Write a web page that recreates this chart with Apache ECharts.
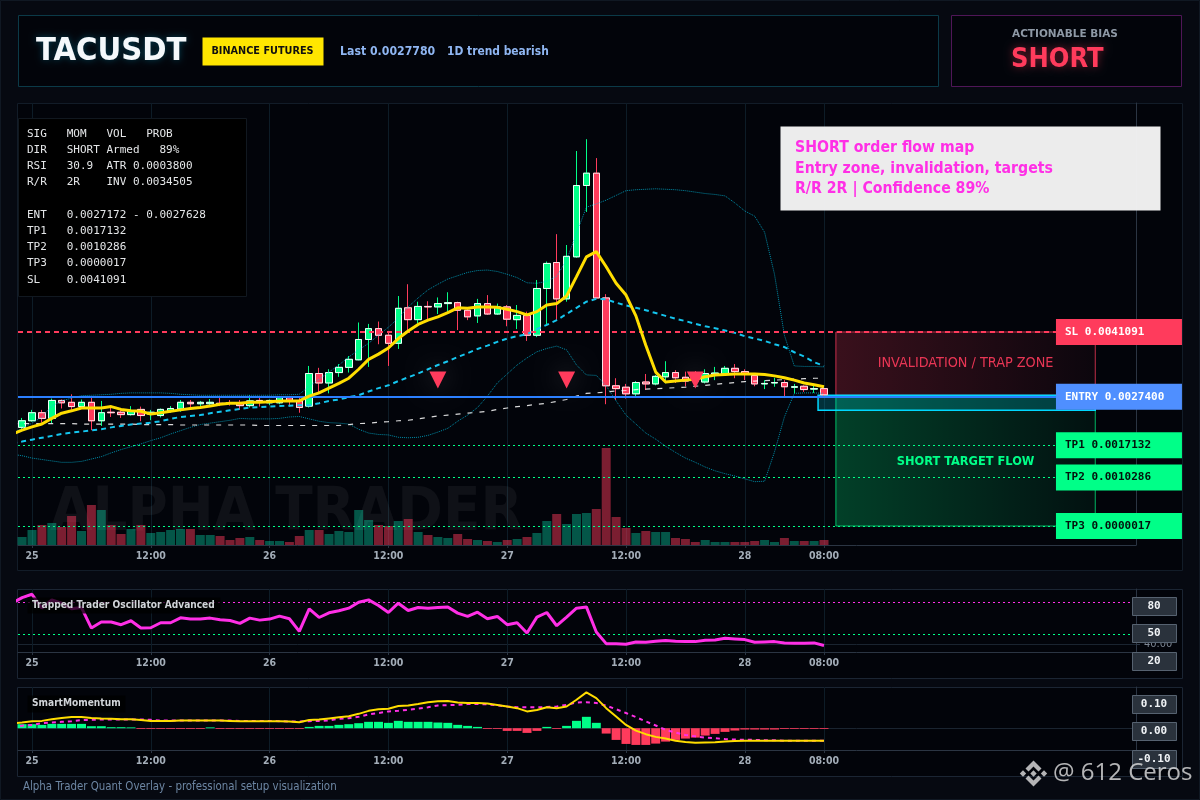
<!DOCTYPE html>
<html><head><meta charset="utf-8">
<style>html,body{margin:0;padding:0;background:#060911}#c{width:1200px;height:800px}</style>
<script src="https://cdn.jsdelivr.net/npm/echarts@6/dist/echarts.min.js"></script>
</head><body><div id="c"></div>
<script>
// ---------- data (one candle per hour; hour 0 = day 25 00:00) ----------
const tickHours = [0,12,24,36,48,60,72,80];
const tickLabels = ['25','12:00','26','12:00','27','12:00','28','08:00'];
const firstCandleHour = -1, firstLineHour = -2;
const open = [0.00209,0.00223,0.00240,0.00228,0.00266,0.00262,0.00253,0.00262,0.00223,0.00241,0.00241,0.00236,0.00247,0.00237,0.00234,0.00244,0.00248,0.00262,0.00259,0.00259,0.00260,0.00261,0.00260,0.00255,0.00266,0.00261,0.00261,0.00272,0.00265,0.00254,0.00323,0.00303,0.00325,0.00336,0.00352,0.00395,0.00418,0.00404,0.00387,0.00462,0.00437,0.00465,0.00464,0.00471,0.00473,0.00457,0.00445,0.00471,0.00449,0.00464,0.00437,0.00446,0.00404,0.00503,0.00558,0.00481,0.00570,0.00721,0.00747,0.00483,0.00297,0.00294,0.00280,0.00305,0.00301,0.00316,0.00325,0.00315,0.00318,0.00305,0.00322,0.00322,0.00334,0.00327,0.00319,0.00301,0.00303,0.00304,0.00294,0.00296,0.00290,0.00291];
const close = [0.00223,0.00240,0.00228,0.00266,0.00261,0.00253,0.00262,0.00223,0.00240,0.00240,0.00236,0.00243,0.00234,0.00241,0.00247,0.00249,0.00262,0.00259,0.00262,0.00262,0.00259,0.00260,0.00255,0.00265,0.00263,0.00266,0.00272,0.00265,0.00251,0.00323,0.00303,0.00325,0.00336,0.00353,0.00395,0.00418,0.00404,0.00387,0.00461,0.00437,0.00465,0.00464,0.00471,0.00473,0.00457,0.00443,0.00471,0.00449,0.00464,0.00438,0.00446,0.00404,0.00503,0.00556,0.00481,0.00571,0.00721,0.00747,0.00483,0.00297,0.00291,0.00280,0.00304,0.00301,0.00317,0.00325,0.00314,0.00307,0.00307,0.00323,0.00324,0.00334,0.00327,0.00321,0.00301,0.00302,0.00304,0.00295,0.00295,0.00289,0.00291,0.00278];
const low = [0.00205,0.00221,0.00219,0.00218,0.00249,0.00246,0.00249,0.00203,0.00212,0.00231,0.00229,0.00234,0.00222,0.00224,0.00230,0.00240,0.00242,0.00251,0.00254,0.00254,0.00254,0.00255,0.00246,0.00251,0.00253,0.00256,0.00258,0.00253,0.00240,0.00251,0.00281,0.00281,0.00316,0.00325,0.00351,0.00337,0.00385,0.00339,0.00375,0.00411,0.00429,0.00436,0.00449,0.00454,0.00415,0.00436,0.00430,0.00447,0.00447,0.00423,0.00417,0.00392,0.00400,0.00424,0.00436,0.00475,0.00568,0.00665,0.00483,0.00258,0.00267,0.00270,0.00274,0.00288,0.00298,0.00302,0.00303,0.00296,0.00296,0.00302,0.00309,0.00320,0.00313,0.00309,0.00296,0.00290,0.00295,0.00272,0.00281,0.00284,0.00282,0.00274];
const high = [0.00229,0.00246,0.00246,0.00270,0.00268,0.00279,0.00268,0.00272,0.00265,0.00251,0.00247,0.00254,0.00253,0.00246,0.00249,0.00254,0.00267,0.00267,0.00265,0.00269,0.00272,0.00267,0.00267,0.00277,0.00274,0.00268,0.00274,0.00274,0.00274,0.00339,0.00335,0.00332,0.00343,0.00360,0.00431,0.00428,0.00433,0.00411,0.00487,0.00512,0.00475,0.00476,0.00484,0.00495,0.00475,0.00463,0.00481,0.00489,0.00471,0.00468,0.00468,0.00454,0.00521,0.00560,0.00618,0.00595,0.00794,0.00819,0.00779,0.00491,0.00313,0.00301,0.00307,0.00322,0.00320,0.00349,0.00330,0.00327,0.00328,0.00332,0.00337,0.00339,0.00343,0.00332,0.00322,0.00309,0.00314,0.00309,0.00301,0.00298,0.00298,0.00294];
const volume = [8,15,20,22,18,29,14,40,35,20,11,16,20,12,13,15,16,16,10,10,9,5,7,8,5,4,4,3,9,15,15,11,14,13,35,25,20,19,24,26,13,10,8,7,11,6,5,4,3,5,6,8,12,24,31,21,31,32,36,97,28,17,12,14,13,13,7,6,3,5,3,3,3,3,4,5,3,7,4,4,4,5];
const emaFast = [0.00195,0.00203,0.00210,0.00216,0.00228,0.00239,0.00244,0.00250,0.00250,0.00250,0.00253,0.00247,0.00244,0.00243,0.00237,0.00240,0.00243,0.00246,0.00249,0.00251,0.00254,0.00258,0.00260,0.00260,0.00262,0.00262,0.00263,0.00265,0.00265,0.00265,0.00275,0.00282,0.00292,0.00302,0.00313,0.00332,0.00353,0.00364,0.00377,0.00397,0.00413,0.00427,0.00436,0.00443,0.00452,0.00462,0.00461,0.00464,0.00464,0.00463,0.00459,0.00454,0.00447,0.00454,0.00468,0.00471,0.00487,0.00528,0.00570,0.00581,0.00549,0.00514,0.00489,0.00445,0.00383,0.00326,0.00305,0.00307,0.00309,0.00311,0.00316,0.00320,0.00321,0.00322,0.00322,0.00322,0.00321,0.00318,0.00314,0.00309,0.00303,0.00299,0.00295];
const basis = [0.00176,0.00179,0.00183,0.00187,0.00191,0.00195,0.00198,0.00200,0.00203,0.00205,0.00209,0.00212,0.00215,0.00217,0.00219,0.00222,0.00227,0.00231,0.00233,0.00235,0.00239,0.00242,0.00245,0.00248,0.00251,0.00252,0.00253,0.00254,0.00255,0.00256,0.00256,0.00260,0.00265,0.00268,0.00273,0.00277,0.00285,0.00292,0.00298,0.00307,0.00315,0.00323,0.00332,0.00341,0.00349,0.00358,0.00366,0.00375,0.00382,0.00390,0.00397,0.00402,0.00406,0.00417,0.00426,0.00436,0.00449,0.00462,0.00475,0.00481,0.00480,0.00473,0.00467,0.00462,0.00457,0.00451,0.00445,0.00439,0.00434,0.00428,0.00423,0.00419,0.00414,0.00409,0.00402,0.00397,0.00392,0.00385,0.00379,0.00368,0.00359,0.00347,0.00339];
const upperBand = [0.00197,0.00207,0.00218,0.00231,0.00254,0.00265,0.00271,0.00276,0.00277,0.00278,0.00279,0.00281,0.00282,0.00282,0.00282,0.00282,0.00281,0.00279,0.00278,0.00277,0.00277,0.00277,0.00277,0.00277,0.00277,0.00277,0.00277,0.00278,0.00278,0.00279,0.00296,0.00311,0.00326,0.00341,0.00358,0.00373,0.00387,0.00404,0.00421,0.00440,0.00464,0.00483,0.00500,0.00512,0.00523,0.00530,0.00537,0.00541,0.00542,0.00539,0.00533,0.00526,0.00515,0.00514,0.00518,0.00529,0.00563,0.00620,0.00675,0.00682,0.00690,0.00700,0.00710,0.00712,0.00713,0.00714,0.00713,0.00712,0.00710,0.00707,0.00704,0.00702,0.00699,0.00684,0.00667,0.00656,0.00622,0.00533,0.00404,0.00339,0.00338,0.00338,0.00337];
const lowerBand = [0.00152,0.00149,0.00144,0.00141,0.00138,0.00135,0.00135,0.00137,0.00142,0.00147,0.00155,0.00162,0.00168,0.00174,0.00181,0.00187,0.00195,0.00202,0.00209,0.00215,0.00218,0.00221,0.00224,0.00228,0.00227,0.00227,0.00227,0.00228,0.00231,0.00232,0.00227,0.00222,0.00219,0.00218,0.00216,0.00205,0.00197,0.00194,0.00193,0.00188,0.00187,0.00188,0.00192,0.00199,0.00207,0.00222,0.00235,0.00251,0.00275,0.00303,0.00322,0.00341,0.00356,0.00369,0.00376,0.00381,0.00373,0.00341,0.00320,0.00319,0.00297,0.00265,0.00235,0.00216,0.00197,0.00184,0.00169,0.00156,0.00144,0.00135,0.00125,0.00117,0.00111,0.00106,0.00100,0.00094,0.00095,0.00157,0.00231,0.00281,0.00282,0.00282,0.00281];
const emaSlow = [0.00217,0.00217,0.00217,0.00217,0.00217,0.00217,0.00217,0.00216,0.00216,0.00216,0.00216,0.00216,0.00216,0.00215,0.00215,0.00215,0.00215,0.00214,0.00214,0.00214,0.00214,0.00214,0.00214,0.00214,0.00214,0.00213,0.00213,0.00213,0.00213,0.00213,0.00213,0.00213,0.00213,0.00213,0.00215,0.00217,0.00218,0.00220,0.00221,0.00223,0.00224,0.00227,0.00230,0.00233,0.00235,0.00237,0.00239,0.00241,0.00243,0.00247,0.00250,0.00253,0.00255,0.00258,0.00260,0.00264,0.00268,0.00275,0.00281,0.00282,0.00284,0.00286,0.00287,0.00289,0.00290,0.00291,0.00292,0.00293,0.00294,0.00296,0.00298,0.00300,0.00302,0.00304,0.00306,0.00307,0.00308,0.00309,0.00310,0.00311,0.00312,0.00313,0.00313];
const signalHours = [41,54,67];
const signalPrice = [0.00309,0.00309,0.00309];
const levelNames = ['SL','ENTRY','TP1','TP2','TP3'];
const levelValues = [0.0041091,0.00274,0.0017132,0.0010286,0.0000017];
const entryZone = [0.00277,0.00245];
const zoneHours = [81.2,107.4]; const entryZoneStart = 79.4; const levelEndHour = 103.43;
const oscLevels = [80,50];
const oscillator = [79.1,84.4,87.5,74.4,82.2,79.1,73.8,75,55.6,61.3,61.3,58.8,62.5,55.6,55.9,60.6,60.6,65.3,64.1,64.1,65,63.4,62.8,60,65,63.1,64.1,66.9,64.4,52.5,73.8,65.6,70,71.9,74.4,80,82.2,76.9,70.3,79.1,72.2,75,74.4,75,75.6,69.7,66.6,70.6,64.4,66.6,58.8,60.6,50.9,65.9,70.3,57.8,65.9,74.4,75.6,51.9,40.9,40.9,40.3,42.5,42.2,43.1,43.8,43.1,42.8,42.8,44.1,44.4,45.9,45.3,44.7,42.2,42.5,42.8,41.6,41.3,41.3,41.6,39.1];
const momentum = [0.017,0.021,0.026,0.027,0.033,0.038,0.041,0.041,0.038,0.036,0.035,0.033,0.033,0.030,0.027,0.027,0.027,0.028,0.028,0.028,0.028,0.028,0.027,0.026,0.026,0.026,0.026,0.026,0.025,0.022,0.030,0.032,0.036,0.040,0.044,0.053,0.064,0.070,0.072,0.082,0.084,0.089,0.096,0.099,0.100,0.095,0.093,0.093,0.091,0.086,0.080,0.074,0.062,0.067,0.077,0.074,0.080,0.105,0.132,0.111,0.074,0.043,0.012,-0.009,-0.022,-0.032,-0.038,-0.046,-0.051,-0.054,-0.053,-0.052,-0.049,-0.047,-0.046,-0.046,-0.046,-0.046,-0.046,-0.046,-0.046,-0.046,-0.046];
const momentumSignal = [0.004,0.009,0.012,0.0185,0.021,0.0235,0.026,0.030,0.031,0.032,0.032,0.032,0.032,0.032,0.031,0.028,0.028,0.028,0.028,0.028,0.028,0.028,0.028,0.027,0.027,0.027,0.027,0.026,0.025,0.025,0.026,0.027,0.029,0.035,0.037,0.042,0.051,0.056,0.062,0.064,0.068,0.072,0.077,0.084,0.085,0.086,0.089,0.089,0.088,0.084,0.080,0.077,0.077,0.077,0.078,0.080,0.086,0.095,0.096,0.093,0.083,0.070,0.056,0.041,0.025,0.010,-0.006,-0.016,-0.025,-0.030,-0.035,-0.037,-0.040,-0.042,-0.043,-0.043,-0.044,-0.044,-0.046,-0.046,-0.046,-0.046,-0.046];
const histogram = [0.0148,0.0148,0.0124,0.016,0.016,0.016,0.016,0.0074,0.0074,0.0037,0.0037,0.003,-0.003,-0.003,-0.003,-0.003,-0.003,-0.003,-0.003,0.003,-0.003,-0.003,-0.003,-0.003,-0.003,-0.003,-0.003,-0.003,-0.003,0.0049,0.0086,0.0086,0.0124,0.0148,0.0185,0.0235,0.0235,0.0198,0.0272,0.0235,0.0235,0.0235,0.021,0.0198,0.0124,0.0086,0.0049,-0.003,-0.003,-0.0099,-0.0099,-0.0173,-0.0099,0.0049,-0.003,0.0086,0.0272,0.042,0.0198,-0.0198,-0.0432,-0.058,-0.0617,-0.0617,-0.0568,-0.0494,-0.0432,-0.0383,-0.0346,-0.0272,-0.021,-0.0136,-0.0086,-0.0049,-0.0049,-0.0049,-0.0049,-0.003,-0.003,-0.003,-0.003,-0.003];
const infoLines = ['SIG   MOM   VOL   PROB','DIR   SHORT Armed   89%','RSI   30.9  ATR 0.0003800','R/R   2R    INV 0.0034505','','ENT   0.0027172 - 0.0027628','TP1   0.0017132','TP2   0.0010286','TP3   0.0000017','SL    0.0041091'];
const noteLines = ['SHORT order flow map','Entry zone, invalidation, targets','R/R 2R | Confidence 89%'];

// ---------- helpers ----------
const UI = '"DejaVu Sans Condensed","DejaVu Sans"', MONO = '"DejaVu Sans Mono"';
const GREEN='#00ff88', RED='#ff3b5c', GRIDC='#0d1c27', AXISC='#2b3543', TXT='#a3adb8';
const lineXY = a => a.map((v,i)=>[firstLineHour+i,v]);
const candleX = i => firstCandleHour+i;
const fmtLevel = i => levelNames[i]+' '+levelValues[i].toFixed(7);

const main = {left:18,top:103,width:1118,height:442};
const osc  = {left:18,top:589,width:1118,height:63};
const mom  = {left:18,top:687,width:1118,height:63};
const xMin=-1.414, xMax=111.515;
function xAxis(g){return {type:'value',gridIndex:g,min:xMin,max:xMax,
  axisLine:{show:true,onZero:false,lineStyle:{color:AXISC,width:1}},
  axisTick:{show:true,length:3,lineStyle:{color:AXISC},customValues:tickHours},
  axisLabel:{customValues:tickHours,color:TXT,fontFamily:UI,fontWeight:'bold',fontSize:10.5,margin:6,
    formatter:v=>tickLabels[tickHours.indexOf(v)]},
  splitLine:{show:true,lineStyle:{color:GRIDC,width:1}}};}
function hLine(y,color,type,width,labelIdx){
  const d=[{coord:[xMin,y]},{coord:[levelEndHour,y]}];
  const isDark=levelNames[labelIdx]&&levelNames[labelIdx].startsWith('TP');
  if(labelIdx!=null){
    const bg=levelNames[labelIdx]==='SL'?RED:levelNames[labelIdx]==='ENTRY'?'#4f8fff':GREEN;
    d[1].label={show:true,position:'end',distance:0,formatter:fmtLevel(labelIdx),backgroundColor:bg,
      color:isDark?'#03120c':'#ffffff',fontFamily:MONO,fontWeight:'bold',fontSize:11,
      width:117,height:26,lineHeight:26,padding:[0,0,0,9],align:'left',verticalAlign:'middle'};
  }
  d[0].lineStyle={color,type,width}; d[1].lineStyle={color,type,width};
  return d;
}
const zoneGrad=(a,b)=>new echarts.graphic.LinearGradient(0,0,1,0,[{offset:0,color:a},{offset:1,color:b}]);

// chrome drawn in page coordinates
function rect(x,y,w,h,fill,stroke,z,lw){return {type:'rect',silent:true,z:z==null?0:z,shape:{x:x+.5,y:y+.5,width:w,height:h},style:{fill:fill||'transparent',stroke:stroke||null,lineWidth:lw||1}};}
function text(x,y,t,font,fill,z,extra){return {type:'text',silent:true,z:z==null?50:z,x:x,y:y,style:Object.assign({text:t,font:font,fill:fill,textVerticalAlign:'middle',verticalAlign:'middle'},extra||{})};}
function tag(x,y,t){return [rect(x,y,44,18,'#2a323c','#566270',60),text(x+22,y+9.5,t,'bold 11px '+MONO,'#f0f3f6',61,{textAlign:'center',align:'center'})];}
const cx=1033.5,cy=773.5,ICON='rgba(225,225,225,.8)';
function poly(p){return {type:'polygon',silent:true,z:70,shape:{points:p},style:{fill:ICON}};}
function dia(x,y,r){return poly([[x,y-r],[x+r,y],[x,y+r],[x-r,y]]);}
const chrome=[
  rect(0,0,1199,799,'#060911','#101823',-5),
  rect(18,15,920,71,'#02040a','#0b3a48',0),
  rect(951,15,230,71,'#02040a','#4f1657',0),
  rect(17,103,1165,467,'#02040a','#121c28',0),
  rect(17,589,1165,89,'#02040a','#1b2533',0),
  rect(17,687,1165,89,'#02040a','#1b2533',0),
  text(36,52,'TACUSDT','bold 32.5px '+UI,'#f4f8fb',5,{textShadowBlur:7,textShadowColor:'rgba(0,200,255,.3)'}),
  rect(202,37,121,28,'#ffe600',null,5),
  text(262.5,51.5,'BINANCE FUTURES','bold 10.8px '+UI,'#101010',6,{textAlign:'center',align:'center'}),
  text(340,51.5,'Last 0.0027780','bold 12.2px '+UI,'#8fb6f2',6),
  text(447,51.5,'1D trend bearish','bold 11.9px '+UI,'#8fb6f2',6),
  text(1012,34,'ACTIONABLE BIAS','bold 10.5px "DejaVu Sans"','#8e99a6',6),
  text(1011,60,'SHORT','bold 27px '+UI,RED,6,{textShadowBlur:9,textShadowColor:'rgba(255,59,92,.45)'}),
  text(50,514,'ALPHA TRADER','bold 61px '+UI,'rgba(255,255,255,.055)',1),
  rect(18,118,228,178,'#000000','#111820',40),
  ...infoLines.map((t,i)=>text(27,134+i*16.2,t,'11px '+MONO,'#e4e6e8',41)),
  rect(780,126,380,84,'rgba(244,244,244,.97)',null,40),
  ...noteLines.map((t,i)=>text(795,148+i*20.6,t,'bold 15.7px '+UI,'#ff2fe6',41)),
  rect(27,597,193,16,'rgba(0,0,0,.75)',null,40),
  text(32,605,'Trapped Trader Oscillator Advanced','bold 10.1px '+UI,'#d0d4d8',41),
  rect(27,695,98,17,'rgba(0,0,0,.75)',null,40),
  text(32,703,'SmartMomentum','bold 10.1px '+UI,'#d0d4d8',41),
  ...tag(1132,597,'80'),...tag(1132,624,'50'),...tag(1132,652,'20'),
  ...tag(1132,695,'0.10'),...tag(1132,722,'0.00'),...tag(1132,750,'-0.10'),
  text(23,787,'Alpha Trader Quant Overlay - professional setup visualization','11.4px '+UI,'#6d86a3',41),
  text(1053,773,'@ 612 Ceros','24px "Open Sans"','rgba(225,225,225,.8)',70),
  dia(cx,cy,3.2),dia(cx-10.5,cy,3.2),dia(cx+10.5,cy,3.2),
  poly([[cx,cy-13],[cx+8,cy-5],[cx+5,cy-2],[cx,cy-7],[cx-5,cy-2],[cx-8,cy-5]]),
  poly([[cx,cy+13],[cx+8,cy+5],[cx+5,cy+2],[cx,cy+7],[cx-5,cy+2],[cx-8,cy+5]])
];

const candleWick = open.map((o,i)=>[candleX(i),o,close[i],low[i],high[i]]);
const candleBody = open.map((o,i)=>[candleX(i),o,close[i],Math.min(o,close[i]),Math.max(o,close[i])]);

const option={
  backgroundColor:'#060911',animation:false,tooltip:{show:false},legend:{show:false},
  grid:[main,osc,mom].map(g=>Object.assign({containLabel:false},g)),
  graphic:{elements:chrome},
  xAxis:[xAxis(0),xAxis(1),xAxis(2)],
  yAxis:[
    {type:'value',gridIndex:0,position:'right',min:-0.0004,max:0.008956,axisLine:{show:true,onZero:false,lineStyle:{color:AXISC}},axisTick:{show:false},axisLabel:{show:false},splitLine:{show:false}},
    {type:'value',gridIndex:0,min:0,max:442,show:false,splitLine:{show:false}},
    {type:'value',gridIndex:1,position:'right',min:33,max:92.5,axisLine:{show:true,onZero:false,lineStyle:{color:AXISC}},
      axisTick:{show:true,length:4,lineStyle:{color:AXISC},customValues:[40]},
      axisLabel:{customValues:[40],color:'#7d8794',fontFamily:UI,fontSize:11,margin:8,formatter:v=>v.toFixed(2)},
      splitLine:{show:true,lineStyle:{color:'#1a2430'}}},
    {type:'value',gridIndex:2,position:'right',min:-0.0804,max:0.152,axisLine:{show:true,onZero:false,lineStyle:{color:AXISC}},
      axisTick:{show:false,customValues:[0]},axisLabel:{show:false,customValues:[0]},
      splitLine:{show:true,lineStyle:{color:'#1a2430'}}}
  ],
  series:[
    {name:'zones',type:'line',xAxisIndex:0,yAxisIndex:0,data:[],z:1,silent:true,
      markArea:{silent:true,z:1,data:[
        [{coord:[zoneHours[0],levelValues[0]],itemStyle:{color:zoneGrad('rgba(255,59,92,.22)','rgba(255,59,92,.04)'),borderColor:'rgba(255,59,92,.75)',borderWidth:1},
          label:{show:true,position:'inside',formatter:'INVALIDATION / TRAP ZONE',color:'rgba(255,59,92,.9)',fontFamily:UI,fontSize:14.3}},
         {coord:[zoneHours[1],entryZone[0]]}],
        [{coord:[zoneHours[0],levelValues[1]],itemStyle:{color:zoneGrad('rgba(0,255,136,.24)','rgba(0,255,136,.05)'),borderColor:'rgba(0,255,136,.7)',borderWidth:1},
          label:{show:true,position:'inside',formatter:'SHORT TARGET FLOW',color:GREEN,fontFamily:UI,fontWeight:'bold',fontSize:12.7}},
         {coord:[zoneHours[1],levelValues[4]]}],
        [{coord:[entryZoneStart,entryZone[0]],itemStyle:{color:'rgba(0,229,255,.2)',borderColor:'#00d8ff',borderWidth:1.5}},
         {coord:[zoneHours[1],entryZone[1]]}]
      ]}},
    {name:'volume',type:'bar',xAxisIndex:0,yAxisIndex:1,barWidth:9,z:2,silent:true,
      data:volume.map((v,i)=>[candleX(i),v]),
      itemStyle:{color:p=>close[p.dataIndex]>=open[p.dataIndex]?'rgba(8,255,200,.33)':'rgba(255,59,92,.48)'}},
    {name:'wick',type:'candlestick',xAxisIndex:0,yAxisIndex:0,barWidth:7,z:3,silent:true,data:candleWick,
      itemStyle:{color:GREEN,color0:RED,borderColor:GREEN,borderColor0:RED,borderColorDoji:GREEN,borderWidth:1}},
    {name:'body',type:'candlestick',xAxisIndex:0,yAxisIndex:0,barWidth:7,z:4,silent:true,data:candleBody,
      itemStyle:{color:GREEN,color0:RED,borderColor:'#f2fff9',borderColor0:'#ffe6ea',borderColorDoji:'#f2fff9',borderWidth:1}},
    {name:'upper',type:'line',xAxisIndex:0,yAxisIndex:0,data:lineXY(upperBand),showSymbol:false,z:5,silent:true,lineStyle:{color:'rgba(0,200,235,.7)',width:1,type:'dotted'}},
    {name:'lower',type:'line',xAxisIndex:0,yAxisIndex:0,data:lineXY(lowerBand),showSymbol:false,z:5,silent:true,lineStyle:{color:'rgba(0,200,235,.7)',width:1,type:'dotted'}},
    {name:'emaSlow',type:'line',xAxisIndex:0,yAxisIndex:0,data:lineXY(emaSlow),showSymbol:false,z:5,silent:true,lineStyle:{color:'rgba(255,255,255,.85)',width:1.2,type:[5,7]}},
    {name:'basis',type:'line',xAxisIndex:0,yAxisIndex:0,data:lineXY(basis),showSymbol:false,z:5,silent:true,lineStyle:{color:'#14c6ef',width:2,type:[5,4]}},
    {name:'levels',type:'line',xAxisIndex:0,yAxisIndex:0,data:[],z:6,silent:true,
      markLine:{silent:true,symbol:'none',z:6,data:[
        hLine(levelValues[0],RED,[5,4],2,0),
        hLine(levelValues[1],'#2b7fff','solid',2,1),
        hLine(levelValues[2],GREEN,[2,3],1,2),
        hLine(levelValues[3],GREEN,[2,3],1,3),
        hLine(levelValues[4],GREEN,[2,3],1,4)
      ]}},
    {name:'emaFast',type:'line',xAxisIndex:0,yAxisIndex:0,data:lineXY(emaFast),showSymbol:false,z:7,silent:true,lineStyle:{color:'#ffdd00',width:3}},
    {name:'signals',type:'scatter',xAxisIndex:0,yAxisIndex:0,z:8,silent:true,symbol:'triangle',symbolRotate:180,symbolSize:[17,17],
      data:signalHours.map((h,i)=>[h,signalPrice[i]]),
      itemStyle:{color:RED,opacity:1,shadowBlur:24,shadowColor:'rgba(255,255,255,.22)'}},
    {name:'oscLevels',type:'line',xAxisIndex:1,yAxisIndex:2,data:[],z:3,silent:true,
      markLine:{silent:true,symbol:'none',label:{show:false},data:[
        [{coord:[xMin,oscLevels[0]],lineStyle:{color:'#ff2fe6',type:[2,3],width:1}},{coord:[111.1,oscLevels[0]]}],
        [{coord:[xMin,oscLevels[1]],lineStyle:{color:GREEN,type:[2,3],width:1}},{coord:[111.1,oscLevels[1]]}]
      ]}},
    {name:'oscillator',type:'line',xAxisIndex:1,yAxisIndex:2,data:lineXY(oscillator),showSymbol:false,z:5,silent:true,lineStyle:{color:'#ff2fe6',width:3}},
    {name:'histogram',type:'bar',xAxisIndex:2,yAxisIndex:3,barWidth:9,z:3,silent:true,data:histogram.map((v,i)=>[candleX(i),v]),
      itemStyle:{color:p=>p.value[1]>=0?GREEN:RED}},
    {name:'signal',type:'line',xAxisIndex:2,yAxisIndex:3,data:lineXY(momentumSignal),showSymbol:false,z:4,silent:true,lineStyle:{color:'#ff2fe6',width:2,type:[4,4]}},
    {name:'momentum',type:'line',xAxisIndex:2,yAxisIndex:3,data:lineXY(momentum),showSymbol:false,z:5,silent:true,lineStyle:{color:'#ffdd00',width:2}}
  ]
};
const chart=echarts.init(document.getElementById('c'),null,{renderer:'canvas',width:1200,height:800});
chart.setOption(option);
</script></body></html>
